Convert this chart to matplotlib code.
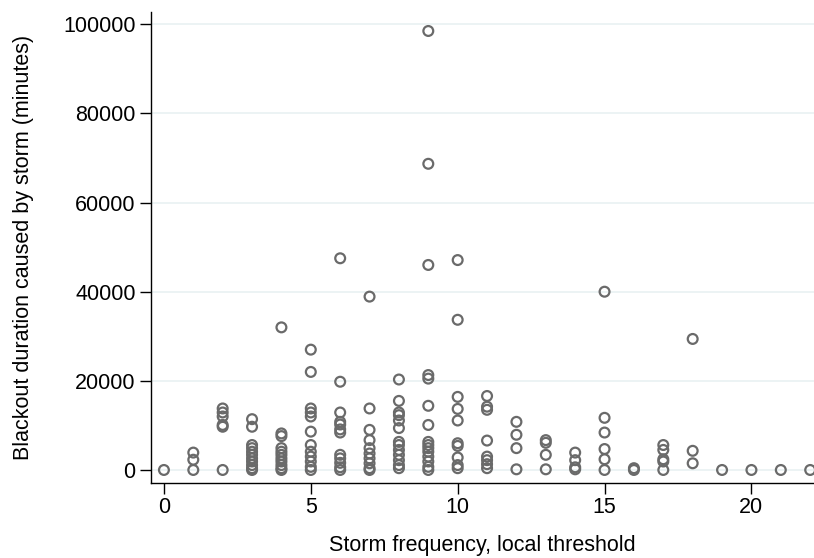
import matplotlib
matplotlib.use("Agg")
import matplotlib.pyplot as plt

plt.rcParams['font.family'] = ['Liberation Sans', 'DejaVu Sans']

# storm frequency (x) and blackout duration in minutes (y)
col0 = [0]
col1 = [3900, 2300, 0]
col2 = [13800, 12900, 12000, 10100, 9700, 0]
col3 = [11400, 9700, 5600, 4900, 4100, 3400, 2600, 1900, 1100, 400, 0]
col4 = [32000, 8200, 7600, 4900, 4100, 3400, 2600, 1900, 1100, 400, 0]
col5 = [27000, 22000, 13800, 12900, 12000, 8600, 5600, 4100, 3000, 1900, 700, 0]
col6 = [47500, 19800, 12900, 10800, 10200, 9100, 8400, 3400, 2600, 1600, 600, 0]
col7 = [38900, 13800, 9000, 6700, 4900, 3700, 2600, 1500, 400, 0]
col8 = [20300, 15500, 12900, 12300, 11100, 9400, 6300, 5600, 4500, 3400, 2200, 1100, 400]
col9 = [98500, 68700, 46000, 21300, 20500, 14400, 10100, 6300, 5600, 4900, 4100,
        3000, 1900, 700, 0]
col10 = [47100, 33700, 16400, 13700, 11100, 6000, 5400, 2800, 1100, 400]
col11 = [16600, 14200, 13500, 6600, 3000, 2200, 1300, 400]
col12 = [10800, 7900, 4900, 150]
col13 = [6700, 6100, 3400, 150]
col14 = [3900, 2200, 600, 150]
col15 = [40000, 11700, 8400, 4700, 2400, 0]
col16 = [400, 0]
col17 = [5600, 4500, 2400, 1900, 0]
col18 = [29400, 4300, 1500]
col19 = [0]
col20 = [0]
col21 = [0]
col22 = [0]

columns = [col0, col1, col2, col3, col4, col5, col6, col7, col8, col9, col10, col11,
           col12, col13, col14, col15, col16, col17, col18, col19, col20, col21, col22]

storm_freq = []
blackout_min = []
for i, col in enumerate(columns):
    for v in col:
        storm_freq.append(i)
        blackout_min.append(v)

y_ticks = [0, 20000, 40000, 60000, 80000, 100000]
x_ticks = [0, 5, 10, 15, 20]

fig = plt.figure(figsize=(8.14, 5.58), dpi=100)
ax = fig.add_axes([151 / 814, 1 - 483.3 / 558, 1 - 151 / 814, (483.3 - 12) / 558])

ax.scatter(storm_freq, blackout_min, s=50, facecolors='none', edgecolors='#6a6a6a',
           linewidths=1.6, clip_on=False, zorder=3)

ax.set_xlim(-0.44, 22.13)
ax.set_ylim(-2990, 102760)
ax.set_yticks(y_ticks)
ax.set_xticks(x_ticks)
ax.yaxis.grid(True, color='#eaf2f3', linewidth=1.3)
ax.set_axisbelow(True)

for s in ['top', 'right']:
    ax.spines[s].set_visible(False)
for s in ['left', 'bottom']:
    ax.spines[s].set_color('black')
    ax.spines[s].set_linewidth(1.0)

ax.tick_params(axis='both', length=8, width=1.0, labelsize=15.5, color='black')
ax.tick_params(axis='y', pad=3)
ax.tick_params(axis='x', pad=2)

ax.set_xlabel("Storm frequency, local threshold", fontsize=15.5, labelpad=12)
ax.set_ylabel("Blackout duration caused by storm (minutes)", fontsize=15.5, labelpad=21)

fig.savefig("out.png", dpi=100)
